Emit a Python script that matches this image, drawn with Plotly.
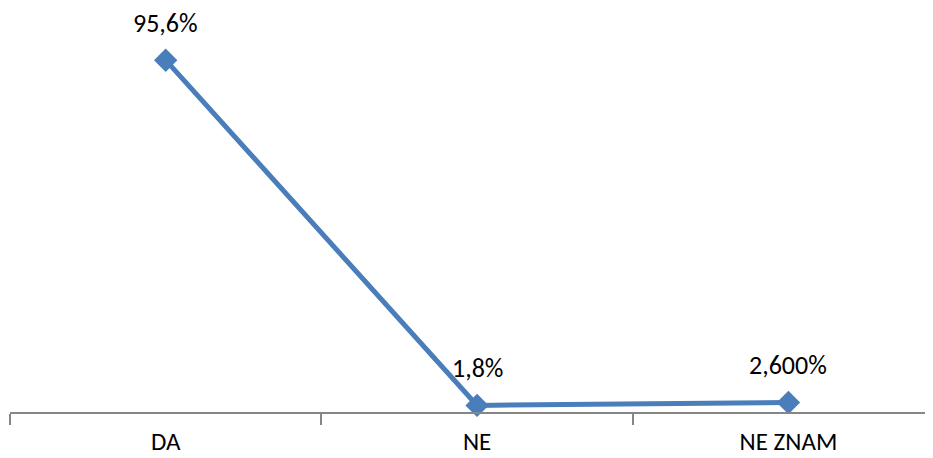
import plotly.graph_objects as go

categories = ["DA", "NE", "NE ZNAM"]
values = [95.6, 1.8, 2.6]
labels = ["95,6%", "1,8%", "2,600%"]

color = "#4A7EBB"
font_family = "Carlito, Calibri, Lato, sans-serif"

fig = go.Figure()
fig.add_trace(go.Scatter(
    x=categories, y=values, mode="lines+markers",
    line=dict(color=color, width=5),
    marker=dict(symbol="diamond", size=18, color=color),
    cliponaxis=False, hoverinfo="skip",
))

for c, v, t in zip(categories, values, labels):
    fig.add_annotation(x=c, y=v, text=t, showarrow=False, yshift=37,
                       font=dict(size=26, color="#000000", family=font_family))

fig.update_layout(
    width=933, height=458,
    margin=dict(l=2, r=0, t=36, b=54),
    plot_bgcolor="white", paper_bgcolor="white",
    showlegend=False,
    xaxis=dict(
        type="category", range=[-0.5, 2.49], tickson="boundaries",
        ticks="outside", ticklen=11, tickcolor="#868686", tickwidth=1.5,
        showline=True, linecolor="#868686", linewidth=1.5,
        showgrid=False, zeroline=False, ticklabelstandoff=6,
        tickfont=dict(size=25, color="#000000", family=font_family),
    ),
    yaxis=dict(range=[0, 100], visible=False, showgrid=False, zeroline=False),
)

fig.write_html("out.html")
